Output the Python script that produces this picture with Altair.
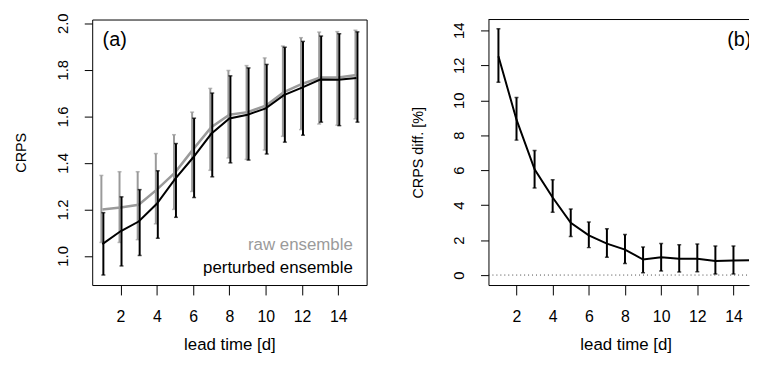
import altair as alt
import pandas as pd

FONT = "Liberation Sans"
GRAY = "#9a9a9a"

# ---------------- data ----------------
lead = list(range(1, 16))
raw_mean = [1.200, 1.208, 1.220, 1.285, 1.358, 1.458, 1.553, 1.607, 1.618, 1.646, 1.704, 1.739, 1.767, 1.767, 1.778]
raw_lo = [1.058, 1.058, 1.070, 1.138, 1.200, 1.277, 1.368, 1.421, 1.415, 1.455, 1.514, 1.543, 1.567, 1.562, 1.589]
raw_hi = [1.346, 1.362, 1.362, 1.440, 1.521, 1.618, 1.720, 1.797, 1.818, 1.851, 1.902, 1.938, 1.962, 1.964, 1.970]
pert_mean = [1.051, 1.106, 1.148, 1.224, 1.330, 1.423, 1.525, 1.591, 1.607, 1.634, 1.691, 1.723, 1.758, 1.757, 1.765]
pert_lo = [0.918, 0.957, 1.002, 1.076, 1.166, 1.251, 1.340, 1.400, 1.412, 1.438, 1.489, 1.519, 1.575, 1.560, 1.575]
pert_hi = [1.186, 1.254, 1.285, 1.366, 1.483, 1.592, 1.700, 1.774, 1.808, 1.823, 1.897, 1.922, 1.945, 1.955, 1.963]

diff_mean = [12.52, 8.89, 6.05, 4.44, 2.99, 2.27, 1.80, 1.46, 0.89, 1.02, 0.93, 0.93, 0.81, 0.83, 0.85]
diff_lo = [11.03, 7.72, 4.98, 3.60, 2.21, 1.57, 1.02, 0.66, 0.13, 0.23, 0.17, 0.19, 0.06, 0.06, 0.10]
diff_hi = [14.09, 10.16, 7.13, 5.45, 3.78, 3.03, 2.65, 2.32, 1.61, 1.80, 1.74, 1.78, 1.66, 1.66, 1.66]

x_ticks = [2, 4, 6, 8, 10, 12, 14]
ya_ticks = [1.0, 1.2, 1.4, 1.6, 1.8, 2.0]
yb_ticks = [0, 2, 4, 6, 8, 10, 12, 14]

dfa = pd.DataFrame({"lead": lead, "raw_mean": raw_mean, "raw_lo": raw_lo, "raw_hi": raw_hi,
                    "pert_mean": pert_mean, "pert_lo": pert_lo, "pert_hi": pert_hi})
dfb = pd.DataFrame({"lead": lead, "diff_mean": diff_mean, "diff_lo": diff_lo, "diff_hi": diff_hi})
dfz = pd.DataFrame({"zero": [0.0]})

W_A, W_B, H = 277, 263, 268
TITLE_Y = 60


def x_axis():
    return alt.Axis(values=x_ticks, title="lead time [d]", domain=False, grid=False,
                    tickSize=10, tickColor="black", labelPadding=14, labelFontSize=16,
                    labelFont=FONT, labelColor="black", labelOverlap=False, labelFlush=False,
                    titleFont=FONT, titleFontSize=17, titleFontWeight="normal", titleColor="black",
                    titleX=138.5, titleY=TITLE_Y, titleAlign="center", titleBaseline="middle")


def y_axis(values, fmt, title, domain):
    return alt.Axis(values=values, format=fmt, title=title, domain=domain, domainColor="black",
                    grid=False, tickSize=8, tickColor="black", labelAngle=270,
                    labelAlign="center", labelBaseline="middle", labelPadding=22,
                    labelFontSize=15, labelFont=FONT, labelColor="black",
                    labelOverlap=False, labelFlush=False,
                    titleFont=FONT, titleFontSize=14.5, titleFontWeight="normal", titleColor="black",
                    titleAngle=270, titleX=-71, titleY=134, titleAlign="center", titleBaseline="middle")


# ---------------- panel (a) ----------------
xa = alt.Scale(domain=[0.44, 15.56], nice=False, zero=False)
ya = alt.Scale(domain=[0.875, 2.016], nice=False, zero=False)
XA = alt.X("lead:Q", scale=xa, axis=x_axis())
ya_ax = y_axis(ya_ticks, ".1f", "CRPS", False)

def YA(field):
    return alt.Y(f"{field}:Q", scale=ya, axis=ya_ax)

base_a = alt.Chart(dfa)
raw_line = base_a.mark_line(color=GRAY, strokeWidth=2.5).encode(x=XA, y=YA("raw_mean"))
raw_bar = base_a.mark_rule(color=GRAY, strokeWidth=2, xOffset=-1).encode(x=XA, y=YA("raw_lo"), y2="raw_hi:Q")
raw_cap1 = base_a.mark_tick(color=GRAY, orient="horizontal", size=4, thickness=1.5, xOffset=-1).encode(x=XA, y=YA("raw_lo"))
raw_cap2 = base_a.mark_tick(color=GRAY, orient="horizontal", size=4, thickness=1.5, xOffset=-1).encode(x=XA, y=YA("raw_hi"))
pert_line = base_a.mark_line(color="black", strokeWidth=2).encode(x=XA, y=YA("pert_mean"))
pert_bar = base_a.mark_rule(color="black", strokeWidth=2, xOffset=1).encode(x=XA, y=YA("pert_lo"), y2="pert_hi:Q")
pert_cap1 = base_a.mark_tick(color="black", orient="horizontal", size=4, thickness=1.5, xOffset=1).encode(x=XA, y=YA("pert_lo"))
pert_cap2 = base_a.mark_tick(color="black", orient="horizontal", size=4, thickness=1.5, xOffset=1).encode(x=XA, y=YA("pert_hi"))

lab_a = alt.Chart(dfz).mark_text(text="(a)", font=FONT, fontSize=20, align="left", baseline="middle",
                                 color="black").encode(x=alt.value(10.5), y=alt.value(21))
leg_raw = alt.Chart(dfz).mark_text(text="raw ensemble", font=FONT, fontSize=17, align="right",
                                   baseline="middle", color=GRAY).encode(x=alt.value(263), y=alt.value(228))
leg_pert = alt.Chart(dfz).mark_text(text="perturbed ensemble", font=FONT, fontSize=17, align="right",
                                    baseline="middle", color="black").encode(x=alt.value(263), y=alt.value(251))

panel_a = alt.layer(raw_line, raw_bar, raw_cap1, raw_cap2, pert_line, pert_bar, pert_cap1, pert_cap2,
                    lab_a, leg_raw, leg_pert).properties(
    width=W_A, height=H, view=alt.ViewBackground(stroke="black", strokeWidth=1, fill="white"))

# ---------------- panel (b) ----------------
xb = alt.Scale(domain=[0.449, 0.449 + W_B / 18.25], nice=False, zero=False)
yb = alt.Scale(domain=[-0.57, 14.62], nice=False, zero=False)
xb_axis = x_axis()
xb_axis.domain = True
xb_axis.domainColor = "black"
XB = alt.X("lead:Q", scale=xb, axis=xb_axis)
yb_ax = y_axis(yb_ticks, "d", "CRPS diff. [%]", True)

def YB(field):
    return alt.Y(f"{field}:Q", scale=yb, axis=yb_ax)

base_b = alt.Chart(dfb)
zero_line = alt.Chart(dfz).mark_rule(color="#444444", strokeWidth=1, strokeDash=[1, 3]).encode(
    y=alt.Y("zero:Q", scale=yb, axis=yb_ax), x=alt.value(0), x2=alt.value("width"))
diff_line = base_b.mark_line(color="black", strokeWidth=2, clip=True).encode(x=XB, y=YB("diff_mean"))
diff_bar = base_b.mark_rule(color="black", strokeWidth=2, clip=True).encode(x=XB, y=YB("diff_lo"), y2="diff_hi:Q")
diff_cap1 = base_b.mark_tick(color="black", orient="horizontal", size=4, thickness=1.5, clip=True).encode(x=XB, y=YB("diff_lo"))
diff_cap2 = base_b.mark_tick(color="black", orient="horizontal", size=4, thickness=1.5, clip=True).encode(x=XB, y=YB("diff_hi"))
top_border = alt.Chart(dfz).mark_rule(color="black", strokeWidth=1).encode(
    x=alt.value(0), x2=alt.value("width"), y=alt.value(0))
lab_b = alt.Chart(dfz).mark_text(text="(b)", font=FONT, fontSize=20, align="left", baseline="middle",
                                 color="black", clip=True).encode(x=alt.value(241), y=alt.value(21))

panel_b = alt.layer(zero_line, diff_line, diff_bar, diff_cap1, diff_cap2, top_border, lab_b).properties(
    width=W_B, height=H, view=alt.ViewBackground(stroke="transparent", fill="white"))

chart = alt.hconcat(panel_a, panel_b, spacing=123, bounds="flush").properties(
    padding={"left": 5, "top": 2, "right": 0, "bottom": 0},
    background="white",
).configure_view(stroke="black")

chart.save("out.html", embed_options={"renderer": "svg", "actions": False})
